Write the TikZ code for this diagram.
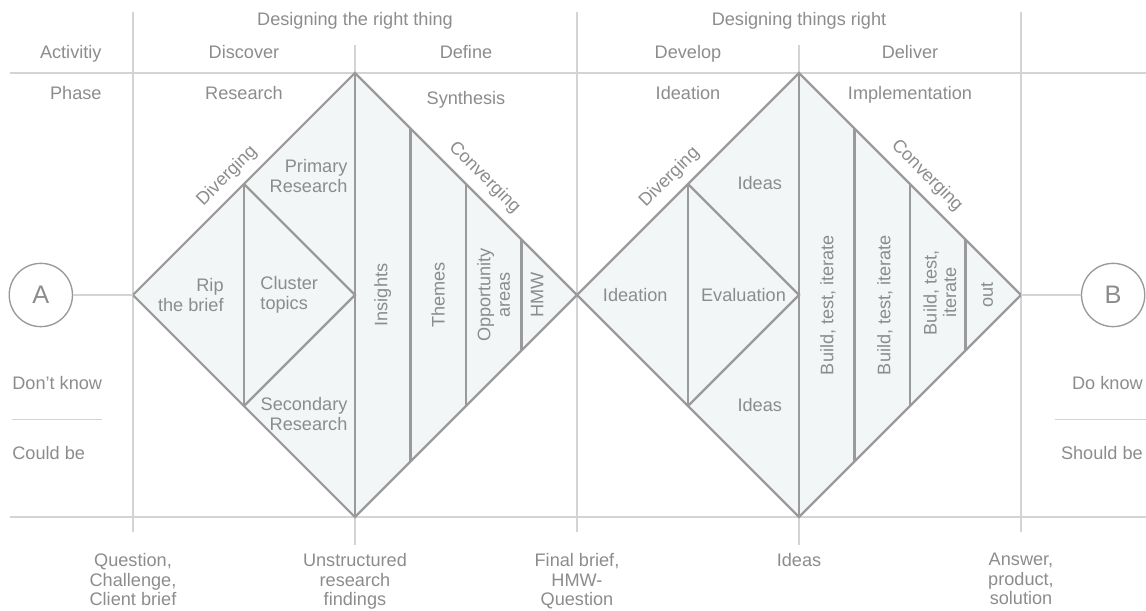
\documentclass[tikz,border=0pt]{standalone}
\usepackage{fontspec}
\setmainfont{Liberation Sans}
\definecolor{gridgray}{HTML}{D4D4D4}
\definecolor{edgegray}{HTML}{9A9A9A}
\definecolor{textgray}{HTML}{8C8C8C}
\definecolor{palefill}{HTML}{F3F6F6}

\begin{document}
\begin{tikzpicture}[
    grid/.style={draw=gridgray, line width=0.6pt},
    edge/.style={draw=edgegray, line width=1.1pt, line join=miter},
    lbl/.style={text=textgray, font=\fontsize{9.3}{10}\selectfont, inner sep=0pt},
    endpoint/.style={circle, draw=edgegray, line width=0.7pt, minimum size=1.14cm, inner sep=0pt,
        text=textgray, font=\fontsize{13}{13}\selectfont},
    ]
    \useasboundingbox (-6.396,-5.676) rectangle (14.252,5.315);

    % table lines
    \draw [grid] (-6.22,4) -- (14.252,4);
    \draw [grid] (-6.22,-4) -- (14.252,-4);
    \foreach \x in {-4,4,12}
        \draw [grid] (\x,5.1) -- (\x,-4.27);
    \foreach \x in {0,8} {
        \draw [grid] (\x,4.5) -- (\x,4);
        \draw [grid] (\x,-4) -- (\x,-4.5);
    }
    \draw [grid] (-6.18,-2.25) -- (-4.56,-2.25);
    \draw [grid] (12.61,-2.25) -- (14.252,-2.25);

    % header
    \node (rightthing) at (0,4.85) [anchor=base, lbl] {Designing the right thing};
    \node (thingsright) at (8,4.85) [anchor=base, lbl] {Designing things right};
    \node (activity) at (-4.56,4.26) [anchor=base east, lbl] {Activitiy};
    \node (discover) at (-2,4.26) [anchor=base, lbl] {Discover};
    \node (define) at (2,4.26) [anchor=base, lbl] {Define};
    \node (develop) at (6,4.26) [anchor=base, lbl] {Develop};
    \node (deliver) at (10,4.26) [anchor=base, lbl] {Deliver};
    \node (phase) at (-4.56,3.53) [anchor=base east, lbl] {Phase};
    \node (research) at (-2,3.53) [anchor=base, lbl] {Research};
    \node (synthesis) at (2,3.43) [anchor=base, lbl] {Synthesis};
    \node (ideation) at (6,3.53) [anchor=base, lbl] {Ideation};
    \node (implement) at (10,3.53) [anchor=base, lbl] {Implementation};

    % side labels
    \node (dontknow) at (-6.18,-1.71) [anchor=base west, lbl] {Don't know};
    \node (couldbe) at (-6.18,-2.97) [anchor=base west, lbl] {Could be};
    \node (doknow) at (14.2,-1.71) [anchor=base east, lbl] {Do know};
    \node (shouldbe) at (14.2,-2.97) [anchor=base east, lbl] {Should be};

    % first diamond
    \coordinate (d1l) at (-4,0);
    \coordinate (d1t) at (0,4);
    \coordinate (d1r) at (4,0);
    \coordinate (d1b) at (0,-4);
    \draw [edge, fill=palefill] (d1l) -- (d1t) -- (d1r) -- (d1b) -- cycle;
    \draw [edge] (-2,2) -- (-2,-2);
    \draw [edge] (-2,2) -- (0,0) -- (-2,-2);
    \draw [edge] (d1t) -- (d1b);
    \foreach \x in {1,2,3}
        \draw [edge] (\x,4-\x) -- (\x,\x-4);
    \path (d1l) -- (d1t) node (div1) [pos=0.48, sloped, above=4.5pt, lbl] {Diverging};
    \path (d1t) -- (d1r) node (conv1) [pos=0.527, sloped, above=4.5pt, lbl] {Converging};
    \node (rip) at (-2.36,0) [anchor=east, align=right, lbl] {Rip\\the brief};
    \node (cluster) at (-1.71,0) [anchor=west, align=left, lbl] {Cluster\\topics};
    \node (primary) at (-0.13,2.14) [anchor=east, align=right, lbl] {Primary\\Research};
    \node (secondary) at (-0.13,-2.14) [anchor=east, align=right, lbl] {Secondary\\Research};
    \node (insights) at (0.5,0) [rotate=90, lbl] {Insights};
    \node (themes) at (1.5,0) [rotate=90, lbl] {Themes};
    \node (opport) at (2.5,0) [rotate=90, align=center, lbl] {Opportunity\\areas};
    \node (hmw) at (3.28,0) [rotate=90, lbl] {HMW};

    % second diamond
    \coordinate (d2l) at (4,0);
    \coordinate (d2t) at (8,4);
    \coordinate (d2r) at (12,0);
    \coordinate (d2b) at (8,-4);
    \draw [edge, fill=palefill] (d2l) -- (d2t) -- (d2r) -- (d2b) -- cycle;
    \draw [edge] (6,2) -- (6,-2);
    \draw [edge] (6,2) -- (8,0) -- (6,-2);
    \draw [edge] (d2t) -- (d2b);
    \foreach \x in {1,2,3}
        \draw [edge] (8+\x,4-\x) -- (8+\x,\x-4);
    \path (d2l) -- (d2t) node (div2) [pos=0.473, sloped, above=4.5pt, lbl] {Diverging};
    \path (d2t) -- (d2r) node (conv2) [pos=0.52, sloped, above=4.5pt, lbl] {Converging};
    \node (ideationin) at (5.05,0) [lbl] {Ideation};
    \node (evaluation) at (7,0) [lbl] {Evaluation};
    \node (ideastop) at (7.7,2.02) [anchor=east, lbl] {Ideas};
    \node (ideasbot) at (7.7,-1.98) [anchor=east, lbl] {Ideas};
    \node (build1) at (8.52,-0.18) [rotate=90, lbl] {Build, test, iterate};
    \node (build2) at (9.55,-0.18) [rotate=90, lbl] {Build, test, iterate};
    \node (build3) at (10.54,0.04) [rotate=90, align=center, lbl] {Build, test,\\iterate};
    \node (out) at (11.39,0) [rotate=90, lbl] {out};

    % start and end
    \node (A) at (-5.66,0) [endpoint] {A};
    \node (B) at (13.66,0) [endpoint] {B};
    \draw [grid] (A) -- (d1l);
    \draw [grid] (d2r) -- (B);

    % outcomes
    \node (question) at (-4,-4.65) [anchor=north, align=center, lbl] {Question,\\Challenge,\\Client brief};
    \node (findings) at (0,-4.65) [anchor=north, align=center, lbl] {Unstructured\\research\\findings};
    \node (brief) at (4,-4.65) [anchor=north, align=center, lbl] {Final brief,\\HMW-\\Question};
    \node (ideasout) at (8,-4.65) [anchor=north, align=center, lbl] {Ideas};
    \node (answer) at (12,-4.65) [anchor=north, align=center, lbl] {Answer,\\product,\\solution};
\end{tikzpicture}
\end{document}
